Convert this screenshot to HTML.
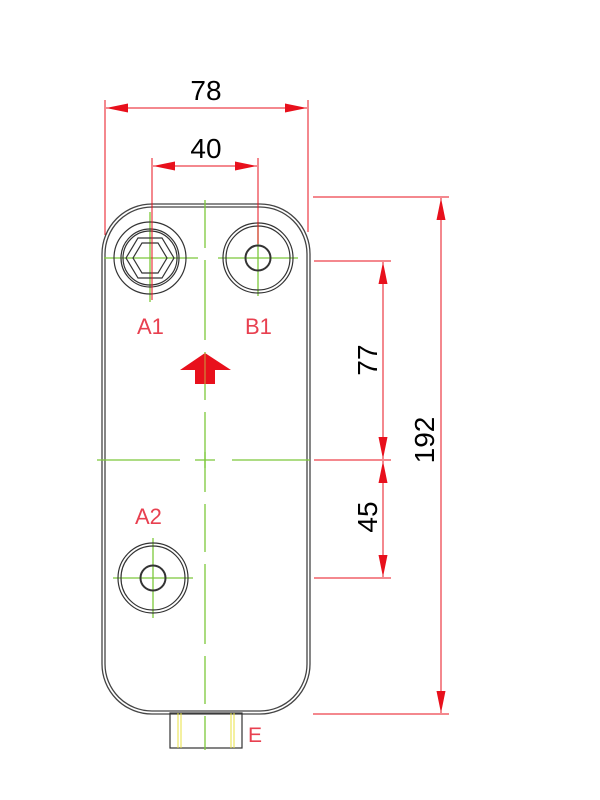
<!DOCTYPE html>
<html><head><meta charset="utf-8"><style>html,body{margin:0;padding:0;background:#fff}svg{display:block}</style></head>
<body>
<svg width="600" height="800" viewBox="0 0 600 800" xmlns="http://www.w3.org/2000/svg" font-family="Liberation Sans, sans-serif">
<defs>
<marker id="ar" viewBox="0 0 10 10" refX="10" refY="5" markerWidth="22" markerHeight="9" markerUnits="userSpaceOnUse" orient="auto-start-reverse" preserveAspectRatio="none"><path d="M0,0 L10,5 L0,10 z" fill="#e8101c"/></marker>
</defs>
<rect x="102" y="204" width="208" height="510" rx="50" fill="none" stroke="#444" stroke-width="1.3"/>
<rect x="105" y="207" width="202" height="504" rx="47" fill="none" stroke="#444" stroke-width="1.3"/>
<rect x="170" y="713" width="72" height="35" fill="none" stroke="#333" stroke-width="1.2"/>
<g stroke="#e8e040" stroke-width="1"><line x1="178" y1="713" x2="178" y2="748"/><line x1="181" y1="713" x2="181" y2="748"/><line x1="231" y1="713" x2="231" y2="748"/><line x1="234" y1="713" x2="234" y2="748"/></g>
<text x="248" y="742" font-size="21" fill="#e84050">E</text>
<g stroke="#7cc83a" stroke-width="1.3" fill="none">
<line x1="205" y1="200" x2="205" y2="750" stroke-dasharray="48 12 80 12"/>
<line x1="97" y1="460" x2="180" y2="460"/><line x1="232" y1="460" x2="310" y2="460"/>
<line x1="195" y1="460" x2="215" y2="460"/><line x1="205" y1="452" x2="205" y2="468"/>
<line x1="104" y1="258" x2="198" y2="258"/><line x1="150" y1="212" x2="150" y2="302"/>
<line x1="218" y1="258" x2="298" y2="258"/><line x1="258" y1="222" x2="258" y2="296"/>
<line x1="113" y1="578" x2="193" y2="578"/><line x1="153" y1="538" x2="153" y2="618"/>
</g>
<g fill="none" stroke="#333" stroke-width="1.2">
<circle cx="150" cy="258" r="36"/>
<circle cx="150" cy="258" r="29"/><circle cx="150" cy="258" r="27"/>
<polygon points="126,258 138,238 162,238 174,258 162,278 138,278"/>
<polygon points="133,258 142,243 158,243 167,258 158,273 142,273"/>
<circle cx="258" cy="258" r="35"/><circle cx="258" cy="258" r="32"/>
<circle cx="258" cy="258" r="12.5" stroke-width="2"/>
<circle cx="153" cy="578" r="35"/><circle cx="153" cy="578" r="32"/>
<circle cx="153" cy="578" r="12.5" stroke-width="2"/>
</g>
<g fill="#e84050" font-size="22">
<text x="137" y="334">A1</text><text x="245" y="334">B1</text><text x="135" y="524">A2</text>
</g>
<polygon points="205,353 231,370 215,370 215,384 195,384 195,370 180,370" fill="#e8101c"/>
<line x1="205" y1="353" x2="205" y2="384" stroke="#c8a040" stroke-width="1"/>
<g stroke="#e8101c" stroke-width="1" fill="none">
<line x1="105" y1="100" x2="105" y2="235"/><line x1="308" y1="100" x2="308" y2="232"/>
<line x1="106" y1="108" x2="307" y2="108" marker-start="url(#ar)" marker-end="url(#ar)"/>
<line x1="152" y1="158" x2="152" y2="300"/><line x1="258" y1="158" x2="258" y2="244"/>
<line x1="153" y1="166" x2="257" y2="166" marker-start="url(#ar)" marker-end="url(#ar)"/>
<line x1="313" y1="197" x2="449" y2="197"/><line x1="313" y1="714" x2="449" y2="714"/>
<line x1="441" y1="198" x2="441" y2="713" marker-start="url(#ar)" marker-end="url(#ar)"/>
<line x1="314" y1="261" x2="391" y2="261"/><line x1="314" y1="460" x2="391" y2="460"/><line x1="314" y1="578" x2="391" y2="578"/>
<line x1="383" y1="262" x2="383" y2="459" marker-start="url(#ar)" marker-end="url(#ar)"/>
<line x1="383" y1="461" x2="383" y2="577" marker-start="url(#ar)" marker-end="url(#ar)"/>
</g>
<g fill="#000" font-size="28" text-anchor="middle">
<text x="206" y="100">78</text>
<text x="206" y="158">40</text>
<text transform="translate(377,360) rotate(-90)">77</text>
<text transform="translate(377,517) rotate(-90)">45</text>
<text transform="translate(434,440) rotate(-90)">192</text>
</g>
</svg>
</body></html>
